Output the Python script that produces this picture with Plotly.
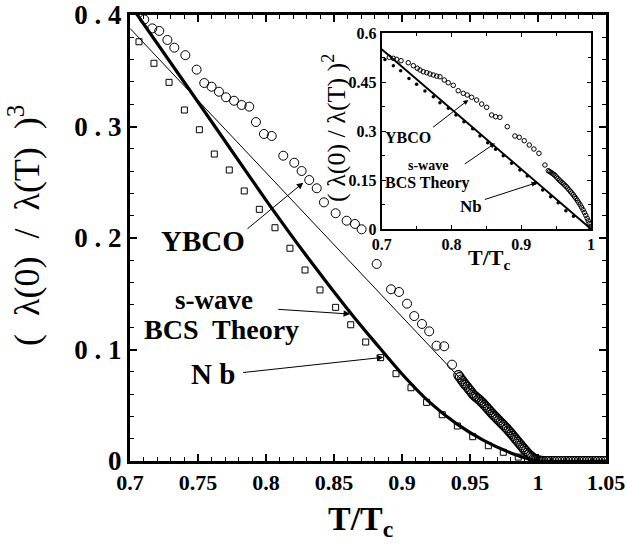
import plotly.graph_objects as go

# ---------------- data: main panel (lambda(0)/lambda(T))^3 ----------------
ybco_x = [0.7105, 0.7164, 0.7215, 0.7275, 0.7326, 0.7407, 0.7490, 0.7546, 0.7600, 0.7654,
          0.7706, 0.7765, 0.7821, 0.7877, 0.7926, 0.7985, 0.8042, 0.8127, 0.8208, 0.8262,
          0.8318, 0.8373, 0.8426, 0.8512, 0.8593, 0.8654, 0.8703, 0.8814, 0.8919, 0.8978,
          0.9037, 0.9090, 0.9147, 0.9200, 0.9254, 0.9310, 0.9368]
ybco_y = [0.396, 0.388, 0.3857, 0.3776, 0.3707, 0.364, 0.351, 0.339, 0.3357, 0.3312,
          0.3262, 0.3231, 0.3193, 0.3178, 0.304, 0.2933, 0.2915, 0.2738, 0.2675, 0.2601,
          0.252, 0.2446, 0.232, 0.2222, 0.2155, 0.2126, 0.2078, 0.1767, 0.154, 0.1516,
          0.1411, 0.130, 0.1229, 0.1163, 0.1034, 0.1029, 0.0864]

ybco_dense_x = [0.9414, 0.9425, 0.9437, 0.9446, 0.9458, 0.9467, 0.9480, 0.9492, 0.9503, 0.9515,
                0.9526, 0.9538, 0.9549, 0.9561, 0.9572, 0.9584, 0.9596, 0.9607, 0.9619, 0.9630,
                0.9642, 0.9654, 0.9665, 0.9677, 0.9689, 0.9700, 0.9712, 0.9724, 0.9735, 0.9747,
                0.9759, 0.9770, 0.9782, 0.9794, 0.9805, 0.9817, 0.9829, 0.9840, 0.9852, 0.9864,
                0.9875, 0.9887, 0.9898, 0.9910, 0.9922, 0.9933, 0.9945, 0.9956, 0.9968, 0.9979,
                0.9991, 1.0003, 1.0015, 1.0028,
                1.004, 1.006, 1.008, 1.010, 1.012, 1.014, 1.016, 1.018, 1.020, 1.022,
                1.024, 1.026, 1.028, 1.030, 1.032, 1.034, 1.036, 1.038, 1.040, 1.042,
                1.044, 1.046, 1.048, 1.050]
ybco_dense_y = [0.0771, 0.0752, 0.0731, 0.0716, 0.0697, 0.0683, 0.0664, 0.0645, 0.0630, 0.0609,
                0.0592, 0.0580, 0.0569, 0.0556, 0.0545, 0.0531, 0.0517, 0.0502, 0.0486, 0.0470,
                0.0455, 0.0438, 0.0422, 0.0407, 0.0393, 0.0378, 0.0364, 0.0349, 0.0335, 0.0321,
                0.0305, 0.0292, 0.0275, 0.0259, 0.0243, 0.0226, 0.0208, 0.0191, 0.0174, 0.0157,
                0.0140, 0.0123, 0.0106, 0.0090, 0.0074, 0.0059, 0.0046, 0.0034, 0.0024, 0.0015,
                0.0009, 0.0005, 0.0002, 0.0001,
                0.0, 0.0, 0.0, 0.0, 0.0, 0.0, 0.0, 0.0, 0.0, 0.0,
                0.0, 0.0, 0.0, 0.0, 0.0, 0.0, 0.0, 0.0, 0.0, 0.0,
                0.0, 0.0, 0.0, 0.0]

nb_x = [0.7066, 0.7176, 0.7287, 0.7400, 0.7510, 0.7620, 0.7730, 0.7840, 0.7951, 0.8066,
        0.8176, 0.8287, 0.8397, 0.8512, 0.8623, 0.8733, 0.8843, 0.8956, 0.9066, 0.9181,
        0.9296, 0.9407, 0.9520, 0.9635, 0.9745, 0.9855]
nb_y = [0.376, 0.3567, 0.3396, 0.3148, 0.2971, 0.2753, 0.261, 0.2422, 0.2257, 0.2092,
        0.1908, 0.1713, 0.1534, 0.1378, 0.1222, 0.1067, 0.0927, 0.0783, 0.0657, 0.0526,
        0.0415, 0.0314, 0.0218, 0.0137, 0.0078, 0.0035]

bcs_x = [0.700, 0.750, 0.800, 0.830, 0.860, 0.880, 0.900, 0.920, 0.940, 0.960,
         0.980, 0.995, 1.000, 1.050]
bcs_y = [0.4095, 0.322, 0.234, 0.1836, 0.1362, 0.1066, 0.0780, 0.0530, 0.0335, 0.0185,
         0.0072, 0.0012, 0.0, 0.0]

thin_x = [0.700, 1.000]
thin_y = [0.388, 0.000]

# ---------------- data: inset (lambda(0)/lambda(T))^2 ----------------
in_ybco_x = [0.7109, 0.7166, 0.7215, 0.7277, 0.7381, 0.7453, 0.7510, 0.7549, 0.7596, 0.7645,
             0.7692, 0.7739, 0.7788, 0.7835, 0.7897, 0.7954, 0.8026, 0.8097, 0.8169, 0.8226,
             0.8289, 0.8361, 0.8433, 0.8504, 0.8576, 0.8633, 0.8695, 0.8800, 0.8910, 0.8971,
             0.9043, 0.9115, 0.9182, 0.9254, 0.9340,
             0.9387, 0.9405, 0.9425, 0.9445, 0.9465, 0.9485, 0.9505, 0.9525, 0.9545, 0.9565,
             0.9585, 0.9605, 0.9625, 0.9645, 0.9665, 0.9685, 0.9705, 0.9725, 0.9745, 0.9765,
             0.9785, 0.9805, 0.9825, 0.9845, 0.9865, 0.9885, 0.9905, 0.9925, 0.9945, 0.9960,
             0.9975, 0.9990, 1.0000]
in_ybco_y = [0.5256, 0.5225, 0.5194, 0.5152, 0.509, 0.500, 0.492, 0.4867, 0.4815, 0.4785,
             0.4745, 0.4714, 0.468, 0.466, 0.456, 0.4478, 0.4398, 0.4233, 0.4154, 0.4102,
             0.4031, 0.3949, 0.3826, 0.3725, 0.349, 0.3438, 0.3419, 0.3132, 0.2847, 0.2807,
             0.2703, 0.2571, 0.2449, 0.2317, 0.1959,
             0.1785, 0.1760, 0.1735, 0.1705, 0.1672, 0.1640, 0.1590, 0.1545, 0.1500, 0.1462,
             0.1420, 0.1385, 0.1340, 0.1300, 0.1250, 0.1200, 0.1150, 0.1100, 0.1050, 0.0990,
             0.0935, 0.0870, 0.0805, 0.0740, 0.0665, 0.0590, 0.0505, 0.0420, 0.0330, 0.0250,
             0.0170, 0.0080, 0.0020]

in_nb_x = [0.7047, 0.7167, 0.7272, 0.7391, 0.7500, 0.7620, 0.7740, 0.7835, 0.7955, 0.8064,
           0.8179, 0.8304, 0.8408, 0.8519, 0.8633, 0.8742, 0.8862, 0.8981, 0.9086, 0.9196,
           0.9307, 0.9421, 0.9530, 0.9640, 0.9750]
in_nb_y = [0.519, 0.500, 0.4847, 0.461, 0.443, 0.4225, 0.405, 0.3866, 0.3694, 0.349,
           0.3285, 0.307, 0.2847, 0.2642, 0.244, 0.2244, 0.2011, 0.1806, 0.1622, 0.1399,
           0.1194, 0.0989, 0.0805, 0.056, 0.039]

in_bcs_x = [0.700, 1.000]
in_bcs_y = [0.550, 0.000]

main_xticks = [0.7, 0.75, 0.8, 0.85, 0.9, 0.95, 1.0, 1.05]
main_xtext = ["0.7", "0.75", "0.8", "0.85", "0.9", "0.95", "1", "1.05"]
main_yticks = [0, 0.1, 0.2, 0.3, 0.4]
main_ytext = ["0", "0 . 1", "0 . 2", "0 . 3", "0 . 4"]
in_xticks = [0.7, 0.8, 0.9, 1.0]
in_xtext = ["0.7", "0.8", "0.9", "1"]
in_yticks = [0, 0.15, 0.3, 0.45, 0.6]
in_ytext = ["0", "0.15", "0.3", "0.45", "0.6"]

# ---------------- figure ----------------
W, H = 626, 555
L, R, T, B = 130, 20, 15, 94
PW, PH = W - L - R, H - T - B


def px(x):
    return (x - L) / PW


def py(y):
    return (H - B - y) / PH


SERIF = "Liberation Serif"
BLACK = "black"

fig = go.Figure()

# main traces
fig.add_trace(go.Scatter(x=thin_x, y=thin_y, mode="lines",
                         line=dict(color=BLACK, width=1), showlegend=False))
fig.add_trace(go.Scatter(x=bcs_x, y=bcs_y, mode="lines",
                         line=dict(color=BLACK, width=3.2, shape="spline", smoothing=0.8),
                         showlegend=False))
fig.add_trace(go.Scatter(x=nb_x, y=nb_y, mode="markers",
                         marker=dict(symbol="square-open", size=6, color=BLACK,
                                     line=dict(width=1, color=BLACK)), showlegend=False))
fig.add_trace(go.Scatter(x=ybco_x, y=ybco_y, mode="markers",
                         marker=dict(symbol="circle-open", size=9, color=BLACK,
                                     line=dict(width=1, color=BLACK)), showlegend=False))
fig.add_trace(go.Scatter(x=ybco_dense_x, y=ybco_dense_y, mode="markers",
                         marker=dict(symbol="circle-open", size=9, color=BLACK,
                                     line=dict(width=1.2, color=BLACK)), showlegend=False))

# inset traces
fig.add_trace(go.Scatter(x=in_bcs_x, y=in_bcs_y, mode="lines", xaxis="x2", yaxis="y2",
                         line=dict(color=BLACK, width=2), showlegend=False))
fig.add_trace(go.Scatter(x=in_nb_x, y=in_nb_y, mode="markers", xaxis="x2", yaxis="y2",
                         marker=dict(symbol="circle", size=3.5, color=BLACK), showlegend=False))
fig.add_trace(go.Scatter(x=in_ybco_x, y=in_ybco_y, mode="markers", xaxis="x2", yaxis="y2",
                         marker=dict(symbol="circle-open", size=4.5, color=BLACK,
                                     line=dict(width=1, color=BLACK)), showlegend=False))

axis_common = dict(showline=True, linecolor=BLACK, mirror="allticks", ticks="inside",
                   tickcolor=BLACK, showgrid=False, zeroline=False, automargin=False,
                   ticklabeloverflow="allow")

fig.update_layout(
    template="none",
    width=W, height=H,
    margin=dict(l=L, r=R, t=T, b=B, autoexpand=False),
    paper_bgcolor="white", plot_bgcolor="white",
    font=dict(family=SERIF, color=BLACK),
    xaxis=dict(domain=[0, 1], range=[0.7, 1.05], tickvals=main_xticks, ticktext=main_xtext,
               linewidth=3, ticklen=7, tickwidth=1.5,
               minor=dict(dtick=0.01, tick0=0.7, ticks="inside", ticklen=4, tickwidth=1, tickcolor=BLACK),
               tickfont=dict(family=SERIF, size=22, color=BLACK, weight="bold"),
               **axis_common),
    yaxis=dict(domain=[0, 1], range=[0, 0.4], tickvals=main_yticks, ticktext=main_ytext,
               linewidth=3, ticklen=7, tickwidth=1.5,
               minor=dict(dtick=0.02, tick0=0, ticks="inside", ticklen=4, tickwidth=1, tickcolor=BLACK),
               tickfont=dict(family=SERIF, size=27, color=BLACK, weight="bold"),
               **axis_common),
    xaxis2=dict(domain=[px(381.7), px(591)], range=[0.7, 1.0], anchor="y2",
                tickvals=in_xticks, ticktext=in_xtext, linewidth=2, ticklen=4, tickwidth=1,
                minor=dict(dtick=0.05, tick0=0.7, ticks="inside", ticklen=3, tickcolor=BLACK),
                tickfont=dict(family=SERIF, size=16, color=BLACK, weight="bold"),
                **axis_common),
    yaxis2=dict(domain=[py(229), py(33)], range=[0, 0.6], anchor="x2",
                tickvals=in_yticks, ticktext=in_ytext, linewidth=2, ticklen=4, tickwidth=1,
                minor=dict(dtick=0.075, tick0=0, ticks="inside", ticklen=3, tickcolor=BLACK),
                tickfont=dict(family=SERIF, size=16, color=BLACK, weight="bold"),
                **axis_common),
)

ann = []


def text_ann(x, y, text, size, bold=True, xref="x", yref="y", angle=0):
    ann.append(dict(x=x, y=y, xref=xref, yref=yref, text=text, showarrow=False,
                    textangle=angle, xanchor="center", yanchor="middle",
                    font=dict(family=SERIF, size=size, color=BLACK,
                              weight="bold" if bold else "normal")))


def arrow_ann(x0, y0, x1, y1, xref="x", yref="y", size=1.3):
    ann.append(dict(x=x1, y=y1, ax=x0, ay=y0, xref=xref, yref=yref, axref=xref, ayref=yref,
                    text="", showarrow=True, arrowhead=2, arrowsize=size, arrowwidth=1,
                    arrowcolor=BLACK, standoff=0, startstandoff=0))


# main panel labels
text_ann(0.7537, 0.1973, "YBCO", 29)
arrow_ann(0.7853, 0.2072, 0.8274, 0.2496)
text_ann(0.7615, 0.1440, "s-wave", 27)
text_ann(0.7675, 0.1180, "BCS  Theory", 28)
arrow_ann(0.8079, 0.1361, 0.8618, 0.1318)
text_ann(0.7610, 0.0780, "N b", 29)
arrow_ann(0.7821, 0.0792, 0.8862, 0.0930)

# inset labels
text_ann(0.7377, 0.2816, "YBCO", 16, xref="x2", yref="y2")
arrow_ann(0.7716, 0.3082, 0.8241, 0.3949, xref="x2", yref="y2", size=1)
text_ann(0.7663, 0.1940, "s-wave", 14, xref="x2", yref="y2")
text_ann(0.7663, 0.1420, "BCS Theory", 16, xref="x2", yref="y2")
arrow_ann(0.8169, 0.1959, 0.8623, 0.2623, xref="x2", yref="y2", size=1)
text_ann(0.8280, 0.0704, "Nb", 17, xref="x2", yref="y2")
arrow_ann(0.8456, 0.0888, 0.9220, 0.1417, xref="x2", yref="y2", size=1)

# axis titles
text_ann(px(360), py(521), "T/T<sub>c</sub>", 34, xref="paper", yref="paper")
text_ann(px(24), py(226), "(  λ(0)  /  λ(T)  )<sup>3</sup>", 36, bold=False,
         xref="paper", yref="paper", angle=-90)
text_ann(px(489), py(259), "T/T<sub>c</sub>", 22, xref="paper", yref="paper")
text_ann(px(335), py(128), "( λ(0) / λ(T) )<sup>2</sup>", 26, bold=False,
         xref="paper", yref="paper", angle=-90)

fig.update_layout(annotations=ann)

fig.write_html("out.html", config={"displayModeBar": False},
               post_script="document.body.style.margin='0';document.body.style.padding='0';")
